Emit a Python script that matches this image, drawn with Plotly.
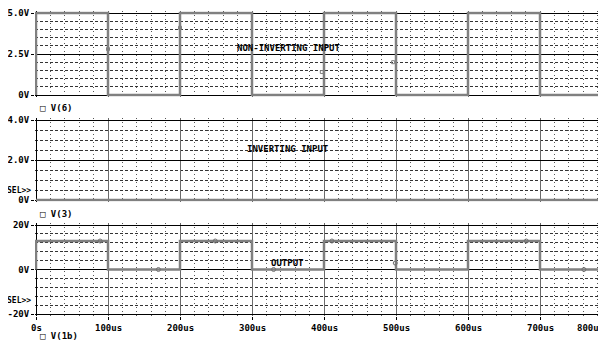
import plotly.graph_objects as go

# ---------------- data ----------------
t_us = [0, 0, 100, 200, 300, 400, 500, 600, 700, 800]
v6_noninv = [0, 5.0, 0, 5.0, 0, 5.0, 0, 5.0, 0, 0]
t_inv_us = [0, 800]
v3_inv = [0.0, 0.0]
v1b_out = [0, 12.8, 0, 12.8, 0, 12.8, 0, 12.8, 0, 0]

mark1_t = [100, 200, 397, 496]
mark1_v = [2.8, 4.1, 1.4, 2.0]
mark3_t = [89, 170, 249, 330, 411, 499, 681, 761]
mark3_v = [12.8, 0, 12.8, 0, 12.8, 2.9, 12.8, 0]

x_tickvals = [0, 100, 200, 300, 400, 500, 600, 700]
x_ticktext = ["0s", "100us", "200us", "300us", "400us", "500us", "600us", "700us"]

y1_tickvals = [0, 2.5, 5.0]
y1_ticktext = ["0V", "2.5V", "5.0V"]
y2_tickvals = [0, 2.0, 4.0]
y2_ticktext = ["0V", "2.0V", "4.0V"]
y3_tickvals = [-20, 0, 20]
y3_ticktext = ["-20V", "0V", "20V"]

# ---------------- layout helpers ----------------
OFF = 8                      # page body offset of the figure inside the window
W, H = 606 - OFF, 341 - OFF
X0 = 36 - OFF                # pixel of t = 0
PPU = 0.72                   # pixels per microsecond
L = X0 - 1
FONT = dict(family="DejaVu Sans Mono", size=9, color="black", weight="bold")
SFONT = dict(family="DejaVu Sans Mono", size=8, color="black", weight="bold")
TRACE = dict(color="#808080", width=2.5)


def py(p):
    return p - OFF


def dom(top_px, bot_px, vtop, vbot, pad):
    top_px, bot_px = py(top_px), py(bot_px)
    ppv = (bot_px - top_px) / (vtop - vbot)
    t = top_px - pad * ppv
    b = bot_px + pad * ppv
    return [1 - b / H, 1 - t / H], [vbot - pad, vtop + pad]


d1, r1 = dom(13, 95, 5.0, 0.0, 0.1)
d2, r2 = dom(120, 200, 4.0, 0.0, 0.08)
d3, r3 = dom(225, 314, 20.0, -20.0, 0.7)

xr = [-(X0 - L) / PPU, (W - X0) / PPU]

fig = go.Figure()
fig.add_trace(go.Scatter(x=t_us, y=v6_noninv, mode="lines", line_shape="hv",
                         line=TRACE, xaxis="x", yaxis="y", showlegend=False))
fig.add_trace(go.Scatter(x=mark1_t, y=mark1_v, mode="markers",
                         marker=dict(symbol="square-open", size=3, color="#808080"),
                         xaxis="x", yaxis="y", showlegend=False))
fig.add_trace(go.Scatter(x=t_inv_us, y=v3_inv, mode="lines",
                         line=TRACE, xaxis="x2", yaxis="y2", showlegend=False))
fig.add_trace(go.Scatter(x=t_us, y=v1b_out, mode="lines", line_shape="hv",
                         line=TRACE, xaxis="x3", yaxis="y3", showlegend=False))
fig.add_trace(go.Scatter(x=mark3_t, y=mark3_v, mode="markers",
                         marker=dict(symbol="circle-open", size=4, color="#707070"),
                         xaxis="x3", yaxis="y3", showlegend=False))

xcommon = dict(range=xr, showgrid=True, gridcolor="#6a6a6a", gridwidth=1,
               tickmode="linear", tick0=0, dtick=100,
               zeroline=True, zerolinecolor="black", zerolinewidth=1,
               minor=dict(dtick=20, tick0=0, showgrid=True, gridcolor="#555555",
                          griddash="1px,3px", gridwidth=1),
               showline=False, tickfont=FONT, automargin=False)


def ycommon(rng, dmn, tv, tt, mdt):
    return dict(range=rng, domain=dmn, tickmode="array", tickvals=tv, ticktext=tt,
                showgrid=True, gridcolor="black", gridwidth=1,
                zeroline=True, zerolinecolor="black", zerolinewidth=1,
                minor=dict(dtick=mdt, tick0=0, showgrid=True, gridcolor="#333333",
                           griddash="3px,2px", gridwidth=1),
                ticks="outside", ticklen=3, tickcolor="black", automargin=False,
                showline=False, tickfont=FONT, fixedrange=True)


fig.update_layout(
    width=W, height=H,
    margin=dict(l=L, r=0, t=0, b=0, autoexpand=False),
    paper_bgcolor="white", plot_bgcolor="white",
    xaxis=dict(**xcommon, anchor="y", showticklabels=False),
    xaxis2=dict(**xcommon, anchor="y2", showticklabels=False),
    xaxis3=dict(**xcommon, anchor="y3", showticklabels=False, ticks="outside",
                ticklen=3, tickcolor="black"),
    yaxis=ycommon(r1, d1, y1_tickvals, y1_ticktext, 0.5),
    yaxis2=ycommon(r2, d2, y2_tickvals, y2_ticktext, 0.5),
    yaxis3=ycommon(r3, d3, y3_tickvals, y3_ticktext, 4),
)


def pxx(p):
    return (p - OFF - L) / (W - L)


def pyy(p):
    return 1 - py(p) / H


annos = []
# x tick labels (bottom)
for v, s in zip(x_tickvals, x_ticktext):
    annos.append(dict(x=v, y=pyy(328), xref="x3", yref="paper", text=s,
                      showarrow=False, font=FONT, xanchor="center", yanchor="middle"))
annos.append(dict(x=1.0, y=pyy(328), xref="paper", yref="paper",
                  text="800us", showarrow=False, font=FONT, xanchor="right",
                  yanchor="middle"))
# titles inside panels
annos.append(dict(x=351, y=2.87, xref="x", yref="y", text="NON-INVERTING INPUT",
                  showarrow=False, font=FONT))
annos.append(dict(x=350, y=2.55, xref="x2", yref="y2", text="INVERTING INPUT",
                  showarrow=False, font=FONT))
annos.append(dict(x=349, y=2.7, xref="x3", yref="y3", text="OUTPUT",
                  showarrow=False, font=FONT))
# legends
for ypx, s in [(108, "\u25a1 V(6)"), (214, "\u25a1 V(3)"), (336, "\u25a1 V(1b)")]:
    annos.append(dict(x=pxx(38), y=pyy(ypx), xref="paper", yref="paper",
                      text=s, showarrow=False, font=FONT, xanchor="left",
                      yanchor="middle"))
# SEL>> markers
for ypx in [190, 300]:
    annos.append(dict(x=pxx(33), y=pyy(ypx), xref="paper", yref="paper",
                      text="SEL>>", showarrow=False, font=SFONT, xanchor="right",
                      yanchor="middle", xshift=0))

fig.update_layout(annotations=annos)
fig.write_html("out.html")
